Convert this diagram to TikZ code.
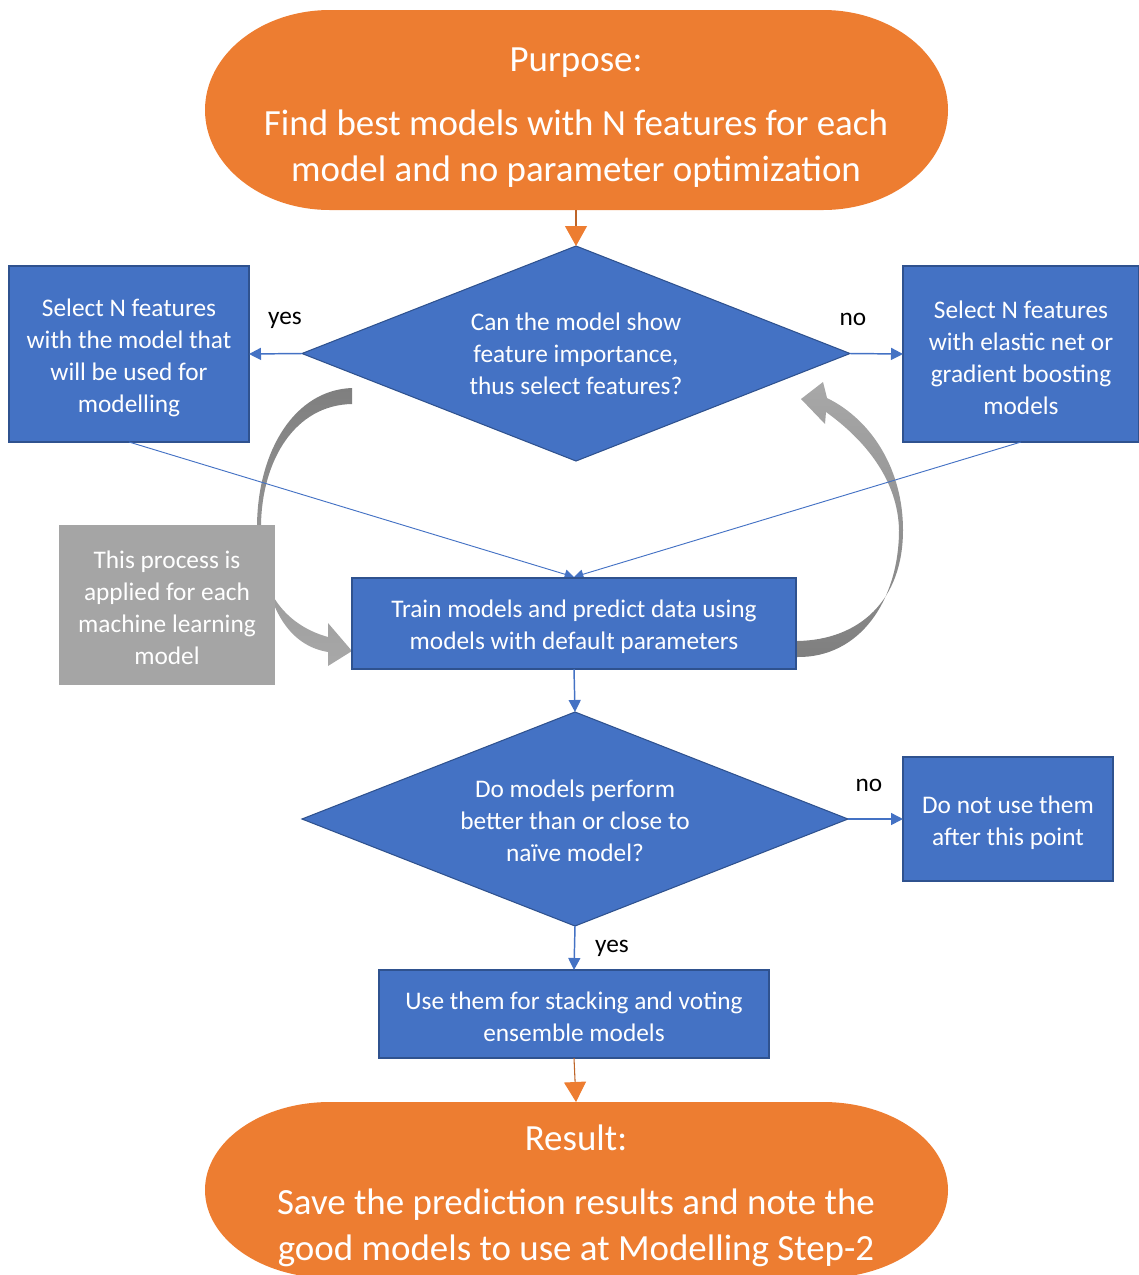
\documentclass[tikz,border=0pt]{standalone}
\usepackage{fontspec}
\setmainfont{Carlito}
\usetikzlibrary{shapes.geometric,arrows.meta}
\definecolor{accent}{HTML}{ED7D31}
\definecolor{boxblue}{HTML}{4472C4}
\definecolor{boxedge}{HTML}{2F528F}
\definecolor{notegrey}{HTML}{A5A5A5}
\definecolor{loopdark}{HTML}{7F7F7F}
\definecolor{looplight}{HTML}{A8A8A8}
% strut that sets the top of the first text line
\newcommand\firstline[1]{\rule{0pt}{#1}}

\begin{document}
\begin{tikzpicture}[x=0.75pt,y=-0.75pt,
  every node/.style={inner sep=0pt, outer sep=0pt},
  bodytext/.style={text=white, align=center, font=\fontsize{19}{24}\selectfont},
  procbox/.style={bodytext, rectangle, fill=boxblue, draw=boxedge, line width=1.1pt},
  decision/.style={bodytext, diamond, aspect=2.55, fill=boxblue, draw=boxedge, line width=0.8pt},
  notebox/.style={bodytext, rectangle, fill=notegrey},
  terminal/.style={text=white, align=center, font=\fontsize{27.7}{34.5}\selectfont, rectangle},
  branch/.style={font=\fontsize{19}{24}\selectfont, text=black},
  flow/.style={draw=boxblue, line width=1.1pt, -{Triangle[width=9pt,length=9pt]}},
  feed/.style={draw=boxblue, line width=0.7pt, -{Triangle[width=7pt,length=7pt]}},
  mainflow/.style={draw=accent!80!black, line width=0.8pt, -{Triangle[width=16.5pt,length=15pt,color=accent,fill=accent]}},
  loop/.style={draw=none}
]
\useasboundingbox (0,0) rectangle (1139,1275);

% start terminal
\fill[accent] (330,10) -- (823,10)
  arc[start angle=90, end angle=-90, x radius=93.75pt, y radius=75pt]
  -- (330,210)
  arc[start angle=270, end angle=90, x radius=93.75pt, y radius=75pt] -- cycle;
\node[terminal, minimum width=557.25pt, minimum height=150pt] (purpose) at (576,110)
  {\firstline{1.03em}Purpose:\\[13.5pt] Find best models with N features for each\\ model and no parameter optimization};

% end terminal, running off the lower edge
\begin{scope}
\clip (0,0) rectangle (1139,1275);
\fill[accent] (330,1102) -- (823,1102)
  arc[start angle=90, end angle=-90, x radius=93.75pt, y radius=66pt]
  -- (330,1278)
  arc[start angle=270, end angle=90, x radius=93.75pt, y radius=66pt] -- cycle;
\node[terminal, minimum width=557.25pt, minimum height=132pt] (result) at (576,1190)
  {\firstline{1.03em}Result:\\[13.5pt] Save the prediction results and note the\\ good models to use at Modelling Step-2};
\end{scope}

% curved loop arrows around the training step
\shade[loop, top color=loopdark, bottom color=looplight]
  (352,388) .. controls (295,390) and (258,450) .. (257,525)
  .. controls (256,590) and (285,625) .. (328,637)
  -- (328,623) -- (352,651) -- (328,666) -- (328,652)
  .. controls (285,645) and (261,600) .. (261,525)
  .. controls (262,460) and (295,405) .. (352,404) -- cycle;
\shade[loop, top color=looplight, bottom color=loopdark]
  (797,641) .. controls (860,640) and (903,600) .. (903,530)
  .. controls (903,470) and (872,420) .. (827,398)
  -- (823,382) -- (801,399) -- (825,424) -- (826,412)
  .. controls (865,440) and (898,480) .. (899,530)
  .. controls (899,600) and (860,658) .. (797,657) -- cycle;

% nodes
\node[decision, minimum width=411pt, minimum height=161.25pt] (d1) at (576,353.5)
  {Can the model show\\ feature importance,\\ thus select features?};
\node[procbox, minimum width=180pt, minimum height=132pt] (selA) at (129,354)
  {\firstline{0.98em}Select N features\\ with the model that\\ will be used for\\ modelling};
\node[procbox, minimum width=177pt, minimum height=132pt] (selB) at (1021,354)
  {\firstline{0.98em}Select N features\\ with elastic net or\\ gradient boosting\\ models};

\draw[feed] (selA.south) -- (574,577) coordinate (trainin);
\draw[feed] (selB.south) -- (trainin);

\node[procbox, minimum width=333pt, minimum height=68.25pt] (train) at (574,623.5)
  {\firstline{0.98em}Train models and predict data using\\ models with default parameters};
\node[notebox, minimum width=162pt, minimum height=120pt] (note) at (167,605)
  {\firstline{0.88em}This process is\\ applied for each\\ machine learning\\ model};

\node[decision, minimum width=409.5pt, minimum height=160.5pt] (d2) at (575,819)
  {\firstline{0.8em}Do models perform\\ better than or close to\\ naïve model?};
\node[procbox, minimum width=157.5pt, minimum height=93pt] (drop) at (1008,819)
  {\firstline{1.02em}Do not use them\\ after this point};
\node[procbox, minimum width=292.5pt, minimum height=66pt] (use) at (574,1014)
  {\firstline{0.88em}Use them for stacking and voting\\ ensemble models};

% branch labels
\node[branch] (yesA) at (285,320) {yes};
\node[branch] (noA) at (853,319) {no};
\node[branch] (noB) at (869,785) {no};
\node[branch] (yesB) at (612,948) {yes};

% connectors
\draw[mainflow] (purpose.south) -- (d1.north);
\draw[flow] (d1.west) -- (selA.east);
\draw[flow] (d1.east) -- (selB.west);
\draw[flow] (train.south) -- (d2.north);
\draw[flow] (d2.east) -- (drop.west);
\draw[flow] (d2.south) -- (use.north);
\draw[mainflow] (use.south) -- (result.north);
\end{tikzpicture}
\end{document}
